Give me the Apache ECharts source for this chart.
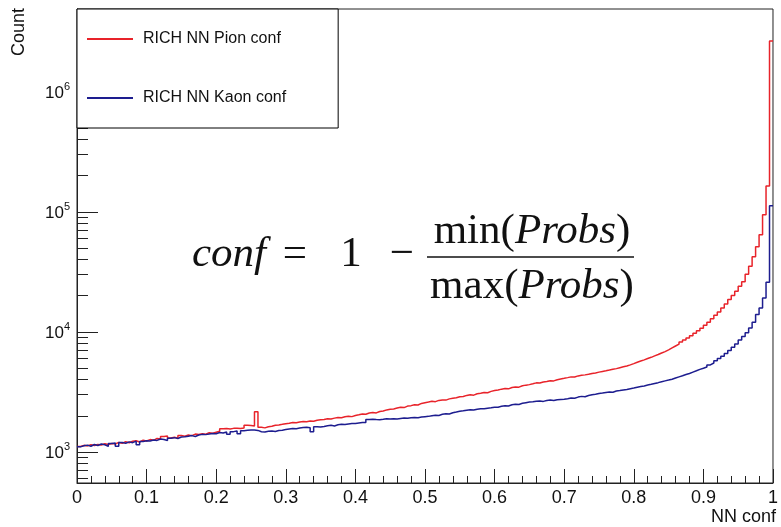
<!DOCTYPE html>
<html>
<head>
<meta charset="utf-8">
<title>RICH NN confidence</title>
<script src="https://cdn.jsdelivr.net/npm/echarts@6/dist/echarts.min.js"></script>
<style>
  html, body { margin: 0; padding: 0; background: #ffffff; }
  #chart { width: 781px; height: 527px; }
</style>
</head>
<body>
<div id="chart"></div>
<script>
// Histogram binning of the NN confidence variable
const xLo = 0;
const xHi = 1;
const nBins = 200;
const binWidth = (xHi - xLo) / nBins;

// Bin contents, RICH NN Pion conf (200 bins, 0 -> 1)
const pionCounts = [
  1105, 1130, 1118, 1142, 1125, 1150, 1138, 1165, 1148, 1172,
  1160, 1195, 1178, 1210, 1188, 1222, 1236, 1205, 1248, 1230,
  1262, 1245, 1290, 1275, 1340, 1352, 1300, 1318, 1296, 1365,
  1348, 1380, 1362, 1402, 1390, 1415, 1398, 1440, 1425, 1452,
  1480, 1552, 1560, 1548, 1565, 1570, 1558, 1575, 1660, 1655,
  1640, 2150, 1598, 1580, 1615, 1628, 1660, 1672, 1690, 1712,
  1728, 1752, 1740, 1770, 1785, 1778, 1802, 1795, 1830, 1848,
  1858, 1880, 1872, 1905, 1930, 1918, 1952, 1975, 1960, 2002,
  2030, 2065, 2050, 2098, 2120, 2105, 2160, 2185, 2230, 2255,
  2270, 2310, 2345, 2330, 2398, 2420, 2465, 2450, 2525, 2560,
  2590, 2630, 2612, 2675, 2702, 2690, 2755, 2790, 2810, 2865,
  2880, 2945, 2975, 2960, 3040, 3065, 3110, 3098, 3180, 3230,
  3270, 3320, 3355, 3340, 3430, 3465, 3450, 3540, 3585, 3620,
  3680, 3745, 3730, 3810, 3850, 3905, 3890, 3980, 4040, 4085,
  4140, 4200, 4185, 4280, 4330, 4365, 4420, 4480, 4530, 4600,
  4660, 4720, 4790, 4870, 4920, 5010, 5095, 5180, 5290, 5420,
  5560, 5690, 5820, 5980, 6110, 6280, 6450, 6640, 6820, 7050,
  7320, 7590, 7870, 8180, 8520, 8870, 9260, 9680, 10150, 10650,
  11300, 12000, 12800, 13700, 14600, 15700, 17000, 18500, 20000, 21700,
  23900, 26000, 30000, 35000, 42000, 51000, 64000, 94000, 163000, 2630000
];

// Bin contents, RICH NN Kaon conf (200 bins, 0 -> 1)
const kaonCounts = [
  1098, 1120, 1135, 1110, 1148, 1128, 1160, 1142, 1108, 1170,
  1182, 1110, 1195, 1175, 1208, 1190, 1225, 1145, 1215, 1232,
  1228, 1250, 1242, 1275, 1262, 1238, 1296, 1310, 1288, 1325,
  1330, 1348, 1362, 1340, 1378, 1395, 1388, 1402, 1420, 1412,
  1445, 1430, 1462, 1395, 1470, 1485, 1412, 1498, 1510, 1520,
  1520, 1505, 1468, 1462, 1480, 1490, 1475, 1500, 1512, 1530,
  1545, 1560, 1552, 1575, 1590, 1600, 1585, 1470, 1618, 1610,
  1625, 1648, 1660, 1640, 1675, 1690, 1682, 1702, 1715, 1722,
  1735, 1748, 1752, 1858, 1860, 1852, 1848, 1862, 1878, 1870,
  1880, 1875, 1892, 1905, 1898, 1915, 1930, 1922, 1948, 1960,
  1970, 1995, 2015, 2005, 2048, 2070, 2062, 2110, 2140, 2175,
  2190, 2215, 2240, 2228, 2262, 2280, 2275, 2305, 2320, 2345,
  2350, 2390, 2415, 2405, 2460, 2490, 2475, 2530, 2560, 2590,
  2605, 2630, 2650, 2625, 2668, 2690, 2672, 2705, 2720, 2735,
  2760, 2800, 2785, 2850, 2890, 2870, 2940, 2980, 3010, 3055,
  3080, 3110, 3140, 3125, 3200, 3230, 3265, 3300, 3345, 3390,
  3440, 3490, 3530, 3590, 3640, 3700, 3760, 3830, 3890, 3950,
  4020, 4110, 4200, 4290, 4390, 4480, 4600, 4720, 4850, 4960,
  5080, 5280, 5480, 5720, 5980, 6250, 6580, 6950, 7400, 7900,
  8500, 9100, 9800, 10700, 12000, 13900, 15700, 19100, 25800, 112000
];

const seriesNames = ['RICH NN Pion conf', 'RICH NN Kaon conf'];

// Axis ranges and tick marks
const yMin = 549;
const yMax = 4.86e6;
const yMajorTicks = [1e3, 1e4, 1e5, 1e6];
const yMinorTicks = [
  600, 700, 800, 900,
  2000, 3000, 4000, 5000, 6000, 7000, 8000, 9000,
  2e4, 3e4, 4e4, 5e4, 6e4, 7e4, 8e4, 9e4,
  2e5, 3e5, 4e5, 5e5, 6e5, 7e5, 8e5, 9e5,
  2e6, 3e6, 4e6
];

const xTitle = 'NN conf';
const yTitle = 'Count';

const FONT = '"Liberation Sans", Arial, sans-serif';
const MATH = '"Liberation Serif", "Times New Roman", serif';
const INK = '#111111';

// Histogram outline: one point at each bin's lower edge, plus the closing upper edge
function histSteps(values) {
  const pts = values.map((v, i) => [xLo + i * binWidth, v]);
  pts.push([xHi, values[values.length - 1]]);
  return pts;
}

const tickData = yMajorTicks.map(v => [xLo, v, 21]).concat(yMinorTicks.map(v => [xLo, v, 11]));

const chart = echarts.init(document.getElementById('chart'), null, { renderer: 'canvas' });

const option = {
  backgroundColor: '#ffffff',
  animation: false,
  grid: {
    left: 77, top: 9, right: 4, bottom: 44,
    show: true, borderColor: '#222222', borderWidth: 1, backgroundColor: 'transparent'
  },
  legend: {
    data: seriesNames.map(n => ({ name: n, icon: 'rect' })),
    orient: 'vertical',
    left: 77, top: 9,
    padding: [22, 52, 22, 10],
    itemGap: 43,
    itemWidth: 46,
    itemHeight: 2,
    backgroundColor: '#ffffff',
    borderColor: '#000000',
    borderWidth: 1,
    borderRadius: 0,
    z: 10,
    selectedMode: false,
    textStyle: { fontFamily: FONT, fontSize: 16, color: INK, lineHeight: 16, padding: [0, 0, 0, 5] }
  },
  xAxis: {
    type: 'value',
    min: xLo, max: xHi, interval: 0.1,
    axisLine: { show: true, lineStyle: { color: '#222222', width: 1 } },
    axisTick: { show: true, inside: true, length: 14, lineStyle: { color: '#222222', width: 1 } },
    minorTick: { show: true, splitNumber: 5, length: 7, lineStyle: { color: '#222222', width: 1 } },
    splitLine: { show: false },
    axisLabel: {
      margin: 6, fontFamily: FONT, fontSize: 18, color: INK,
      formatter: v => String(+v.toFixed(2))
    }
  },
  yAxis: {
    type: 'log', logBase: 10,
    min: yMin, max: yMax,
    axisLine: { show: true, lineStyle: { color: '#222222', width: 1 } },
    axisTick: { show: false },
    minorTick: { show: false },
    splitLine: { show: false },
    axisLabel: {
      margin: 7,
      formatter: v => {
        const e = Math.log10(v);
        if (Math.abs(e - Math.round(e)) > 1e-6) return '';
        return '{b|10}{s|' + Math.round(e) + '}';
      },
      rich: {
        b: { fontFamily: FONT, fontSize: 17, color: INK, lineHeight: 20, padding: [4, 0, 0, 0] },
        s: { fontFamily: FONT, fontSize: 11, color: INK, lineHeight: 12, verticalAlign: 'top' }
      }
    }
  },
  series: [
    {
      name: seriesNames[0],
      type: 'line', step: 'end',
      data: histSteps(pionCounts),
      showSymbol: false, symbol: 'none',
      lineStyle: { color: '#e8232a', width: 1.5 },
      itemStyle: { color: '#e8232a' },
      z: 3
    },
    {
      name: seriesNames[1],
      type: 'line', step: 'end',
      data: histSteps(kaonCounts),
      showSymbol: false, symbol: 'none',
      lineStyle: { color: '#1d1d8f', width: 1.5 },
      itemStyle: { color: '#1d1d8f' },
      z: 3
    },
    {
      // log-axis tick marks: 10^n long, 2..9 x 10^n short, drawn inward from the y axis
      name: 'yTicks',
      type: 'custom',
      silent: true,
      data: tickData,
      encode: { x: 0, y: 1 },
      z: 4,
      renderItem: (params, api) => {
        const p = api.coord([api.value(0), api.value(1)]);
        const len = api.value(2);
        const y = Math.round(p[1]) + 0.5;
        return {
          type: 'line',
          shape: { x1: p[0], y1: y, x2: p[0] + len, y2: y },
          style: { stroke: '#222222', lineWidth: 1 }
        };
      }
    }
  ],
  graphic: [
    // axis titles
    {
      type: 'text', x: 776, y: 517, z: 20,
      style: { text: xTitle, fontFamily: FONT, fontSize: 18, fill: INK, align: 'right', verticalAlign: 'middle' }
    },
    {
      type: 'text', x: 19, y: 8, rotation: Math.PI / 2, z: 20,
      style: { text: yTitle, fontFamily: FONT, fontSize: 18, fill: INK, align: 'right', verticalAlign: 'middle' }
    },
    // definition of the confidence variable
    {
      type: 'text', x: 192, y: 255, z: 20,
      style: { text: 'conf', fontFamily: MATH, fontStyle: 'italic', fontSize: 43, fill: INK, align: 'left', verticalAlign: 'middle' }
    },
    {
      type: 'text', x: 295, y: 255, z: 20,
      style: { text: '=', fontFamily: MATH, fontSize: 43, fill: INK, align: 'center', verticalAlign: 'middle' }
    },
    {
      type: 'text', x: 351, y: 255, z: 20,
      style: { text: '1', fontFamily: MATH, fontSize: 43, fill: INK, align: 'center', verticalAlign: 'middle' }
    },
    {
      type: 'text', x: 402, y: 255, z: 20,
      style: { text: '\u2212', fontFamily: MATH, fontSize: 43, fill: INK, align: 'center', verticalAlign: 'middle' }
    },
    {
      type: 'text', x: 532, y: 232, z: 20,
      style: {
        text: '{u|min(}{i|Probs}{u|)}', align: 'center', verticalAlign: 'middle',
        rich: {
          u: { fontFamily: MATH, fontSize: 43, fill: INK, color: INK },
          i: { fontFamily: MATH, fontStyle: 'italic', fontSize: 43, fill: INK, color: INK }
        }
      }
    },
    {
      type: 'line', z: 20,
      shape: { x1: 427, y1: 257, x2: 634, y2: 257 },
      style: { stroke: INK, lineWidth: 1.6 }
    },
    {
      type: 'text', x: 532, y: 287, z: 20,
      style: {
        text: '{u|max(}{i|Probs}{u|)}', align: 'center', verticalAlign: 'middle',
        rich: {
          u: { fontFamily: MATH, fontSize: 43, fill: INK, color: INK },
          i: { fontFamily: MATH, fontStyle: 'italic', fontSize: 43, fill: INK, color: INK }
        }
      }
    }
  ]
};

chart.setOption(option);
</script>
</body>
</html>
